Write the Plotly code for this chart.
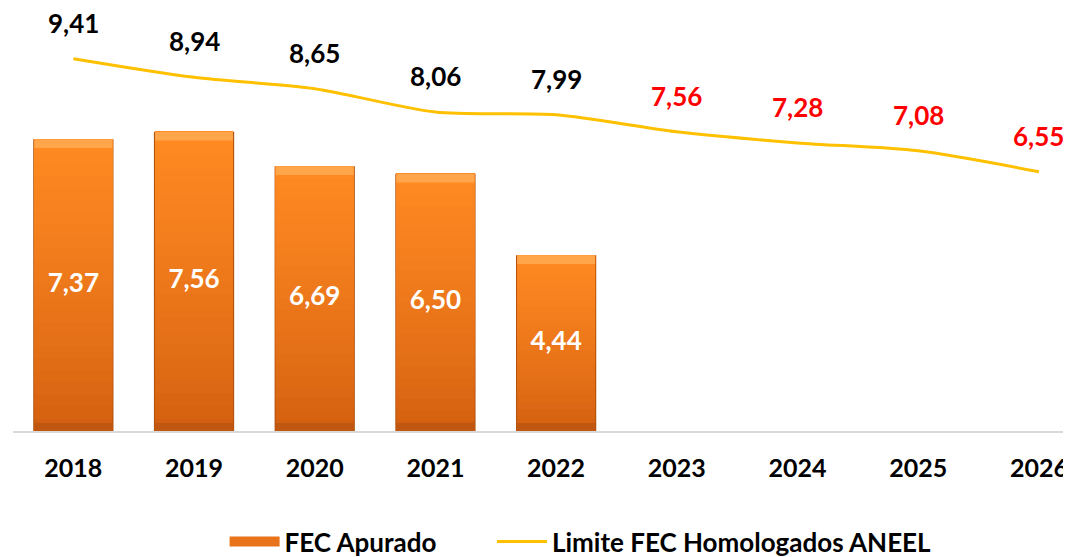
import plotly.graph_objects as go

years = ["2018", "2019", "2020", "2021", "2022", "2023", "2024", "2025", "2026"]
fec_years = ["2018", "2019", "2020", "2021", "2022"]
fec_apurado = [7.37, 7.56, 6.69, 6.50, 4.44]
limite = [9.41, 8.94, 8.65, 8.06, 7.99, 7.56, 7.28, 7.08, 6.55]
limite_colors = ["#000000"] * 5 + ["#FF0000"] * 4

FONT = "Lato"

def fmt(v):
    return f"{v:.2f}".replace(".", ",")

def mix(c1, c2, t):
    a = [int(c1[i:i + 2], 16) for i in (1, 3, 5)]
    b = [int(c2[i:i + 2], 16) for i in (1, 3, 5)]
    return "#" + "".join(f"{round(a[k] + (b[k] - a[k]) * t):02X}" for k in range(3))

fig = go.Figure()

# dark edge / background bar
fig.add_trace(go.Bar(x=fec_years, y=fec_apurado, width=0.665,
                     marker=dict(color="#B4540E", line=dict(width=0)),
                     showlegend=False, hoverinfo="skip"))

# gradient body (each layer covers from its base to the bar top -> no seams)
N = 24
bottom_c, top_c = "#D35F10", "#FF8A22"
for k in range(N):
    t = k / (N - 1)
    col = mix(bottom_c, top_c, t ** 0.8)
    fig.add_trace(go.Bar(
        x=fec_years, y=[v - v * k / N for v in fec_apurado],
        base=[v * k / N for v in fec_apurado],
        width=0.645,
        marker=dict(color=col, line=dict(width=0)),
        showlegend=False, hoverinfo="skip"))

# top highlight bevel
fig.add_trace(go.Bar(x=fec_years, y=[0.22] * len(fec_apurado),
                     base=[v - 0.22 for v in fec_apurado], width=0.645,
                     marker=dict(color="#FFA54A", line=dict(width=0)),
                     showlegend=False, hoverinfo="skip"))
# bottom dark bevel
fig.add_trace(go.Bar(x=fec_years, y=[0.2] * len(fec_apurado),
                     base=[0] * len(fec_apurado), width=0.645,
                     marker=dict(color="#BF5710", line=dict(width=0)),
                     showlegend=False, hoverinfo="skip"))

# legend entry for the bars (wide rectangle symbol)
fig.add_trace(go.Scatter(x=[None], y=[None], mode="lines",
                         line=dict(color="#E8731A", width=14),
                         name="FEC Apurado" + "\u00a0" * 8))

# bar value labels
fig.add_trace(go.Scatter(x=fec_years, y=[v / 2 for v in fec_apurado],
                         mode="text", text=[fmt(v) for v in fec_apurado],
                         textfont=dict(family=FONT, size=26, color="white", weight="bold"),
                         showlegend=False, hoverinfo="skip"))

# limit line
fig.add_trace(go.Scatter(x=years, y=limite, mode="lines",
                         line=dict(color="#FFC000", width=3, shape="spline", smoothing=0.8),
                         name="Limite FEC Homologados ANEEL"))

for i, (v, c) in enumerate(zip(limite, limite_colors)):
    fig.add_annotation(x=i, y=v, xref="x", yref="y", text=fmt(v), showarrow=False,
                       yshift=36,
                       font=dict(family=FONT, size=26, color=c, weight="bold"))

fig.update_layout(
    width=1071, height=557,
    margin=dict(l=5, r=8, t=0, b=133),
    barmode="overlay",
    plot_bgcolor="white", paper_bgcolor="white",
    font=dict(family=FONT, color="#000000"),
    xaxis=dict(type="category", categoryorder="array", categoryarray=years,
               range=[-0.5, 8.266], showgrid=False, zeroline=False,
               showline=True, linecolor="#D9D9D9", linewidth=2,
               ticks="outside", ticklen=14, tickcolor="rgba(0,0,0,0)",
               tickfont=dict(family=FONT, size=25, color="#000000", weight="bold")),
    yaxis=dict(range=[0, 10.69], visible=False),
    legend=dict(orientation="h", x=0.2, xanchor="left", y=-0.262, yanchor="middle",
                font=dict(family=FONT, size=26, color="#000000", weight="bold"),
                itemwidth=50),
    showlegend=True,
)

fig.write_html("out.html")
